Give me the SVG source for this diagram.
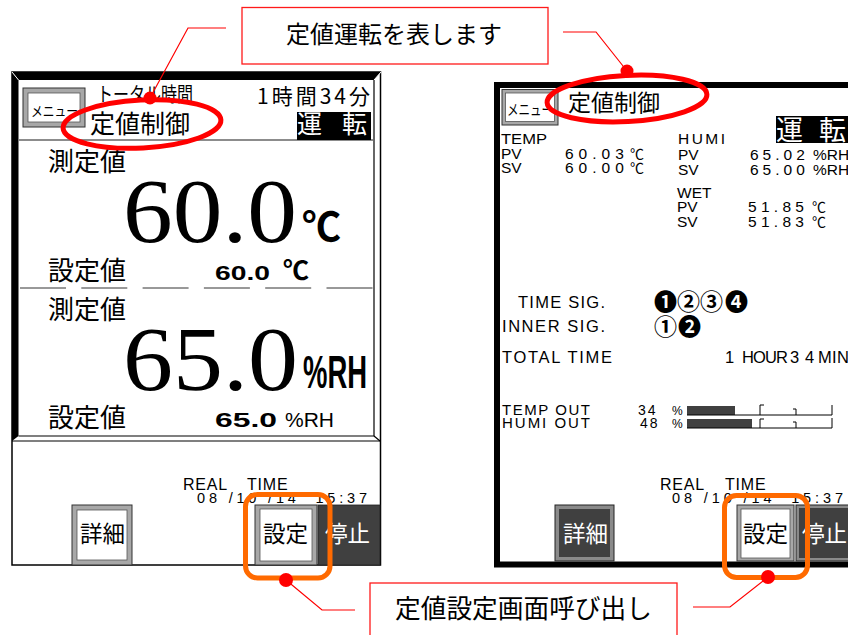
<svg xmlns="http://www.w3.org/2000/svg" width="848" height="635" viewBox="0 0 848 635">
<style>
.jp{font-family:'Noto Sans CJK JP','Noto Sans CJK SC',sans-serif;fill:#000}
.la{font-family:'Liberation Sans',Arial,sans-serif;fill:#000}
.se{font-family:'Liberation Serif','Times New Roman',serif;fill:#000}
.w{fill:#fff}
.lead{fill:none;stroke:#ff0000;stroke-width:1.2}
.dot{fill:#ff0000}
.callout{fill:#fff;stroke:#ff1a1a;stroke-width:1.3}
.ring{fill:none;stroke:#ff0000;stroke-width:5}
.orange{fill:none;stroke:#ff6a00;stroke-width:5}
.frame{fill:#a8a8a8;stroke:#333;stroke-width:1}
.face{fill:#fff;stroke:#555;stroke-width:0.8}
.dface{fill:#404040;stroke:#222;stroke-width:0.8}
.ln{stroke:#000;stroke-width:1.2;fill:none}
</style>

<g id="screen-left">
  <rect x="12" y="72" width="368.5" height="493" fill="#fff" stroke="#000" stroke-width="1.5"/>
  <polygon points="12,72 381,72 374,80 18.5,80" fill="#000"/>
  <polygon points="12,72 18.5,80 18.5,436 12,441" fill="#000"/>
  <line x1="12" y1="72" x2="18.5" y2="80" stroke="#fff" stroke-width="1"/>
  <line x1="374" y1="80" x2="381" y2="72" stroke="#fff" stroke-width="1"/>
  <line class="ln" x1="374" y1="80" x2="374" y2="436"/>
  <line class="ln" x1="18.5" y1="436" x2="374" y2="436"/>
  <line class="ln" x1="374" y1="436" x2="380" y2="441"/>
  <line class="ln" x1="12" y1="441" x2="380" y2="441"/>
  <line x1="19" y1="140" x2="373" y2="140" stroke="#666" stroke-width="1.5"/>

  <g id="btn-menu-left">
    <rect class="frame" x="23" y="88" width="62" height="39"/>
    <rect class="face" x="28" y="93" width="52" height="29"/>
    <text class="jp" x="31" y="116" font-size="14" textLength="47" lengthAdjust="spacingAndGlyphs">メニュー</text>
  </g>
  <text class="jp" x="97" y="102" font-size="20" textLength="96" lengthAdjust="spacingAndGlyphs">トータル時間</text>
  <text class="jp" x="90" y="133" font-size="25">定値制御</text>
  <text class="jp" x="257" y="104" font-size="21" textLength="113" lengthAdjust="spacing">1時間34分</text>
  <rect x="297" y="112" width="74" height="28" fill="#000"/>
  <text class="jp w" x="297" y="133" font-size="25">運<tspan x="342">転</tspan></text>

  <text class="jp" x="48" y="171" font-size="26">測定値</text>
  <text class="se" x="123" y="242" font-size="90" textLength="174" lengthAdjust="spacingAndGlyphs">60.0</text>
  <text class="jp" x="302" y="241" font-size="40" font-weight="700" textLength="39" lengthAdjust="spacingAndGlyphs">℃</text>
  <text class="jp" x="48" y="280" font-size="26">設定値</text>
  <text class="la" x="215" y="280" font-size="21" font-weight="700"><tspan textLength="55" lengthAdjust="spacingAndGlyphs">60.0</tspan><tspan x="283" font-family="'Noto Sans CJK JP',sans-serif" font-size="26">℃</tspan></text>
  <line x1="20" y1="288" x2="373" y2="288" stroke="#333" stroke-width="1" stroke-dasharray="46 15.3"/>

  <text class="jp" x="48" y="318.5" font-size="26">測定値</text>
  <text class="se" x="123" y="390" font-size="92" textLength="175" lengthAdjust="spacingAndGlyphs">65.0</text>
  <text class="la" x="303" y="388" font-size="46" font-weight="700" textLength="64" lengthAdjust="spacingAndGlyphs">%RH</text>
  <text class="jp" x="48" y="426.5" font-size="26">設定値</text>
  <text class="la" x="215" y="427" font-size="21"><tspan font-weight="700" textLength="62" lengthAdjust="spacingAndGlyphs">65.0</tspan><tspan x="285">%RH</tspan></text>

  <text class="la" x="183" y="490" font-size="16" letter-spacing="0.8">REAL<tspan x="247">TIME</tspan></text>
  <text class="la" x="197" y="503" font-size="14.5" textLength="170" lengthAdjust="spacing" xml:space="preserve">08 /10 /14  15:37</text>

  <g id="btn-detail-left">
    <rect class="frame" x="72" y="505" width="60" height="60"/>
    <rect class="face" x="77" y="510" width="50" height="50"/>
    <text class="jp" x="80" y="542" font-size="22.5">詳細</text>
  </g>
  <g id="btn-set-left">
    <rect class="frame" x="255" y="505" width="62" height="60"/>
    <rect class="face" x="260" y="509" width="52" height="52"/>
    <text class="jp" x="263" y="542" font-size="22.5">設定</text>
  </g>
  <g id="btn-stop-left">
    <rect class="dface" x="318" y="505" width="62" height="60"/>
    <text class="jp w" x="325" y="542" font-size="22.5">停止</text>
  </g>
</g>

<g id="screen-right">
  <rect x="497" y="85" width="400" height="479.5" fill="#fff" stroke="#000" stroke-width="6"/>
  <g id="btn-menu-right">
    <rect class="frame" x="502" y="89.5" width="56" height="35.5"/>
    <rect class="face" x="505.5" y="93" width="49" height="28.5"/>
    <text class="jp" x="507" y="115" font-size="15" textLength="46" lengthAdjust="spacingAndGlyphs">メニュー</text>
  </g>
  <text class="jp" x="568" y="110.5" font-size="23">定値制御</text>
  <rect x="776" y="116" width="80" height="27" fill="#000"/>
  <text class="jp w" x="776" y="140" font-size="27">運<tspan x="819">転</tspan></text>

  <g class="la" font-size="15.5">
    <text x="501" y="143.5" textLength="46" lengthAdjust="spacingAndGlyphs">TEMP</text>
    <text x="501" y="159">PV</text>
    <text x="501" y="173">SV</text>
    <text x="565" y="159" letter-spacing="5">60.03<tspan x="630" font-family="'Noto Sans CJK JP',sans-serif" font-size="14" letter-spacing="0">℃</tspan></text>
    <text x="565" y="173" letter-spacing="5">60.00<tspan x="630" font-family="'Noto Sans CJK JP',sans-serif" font-size="14" letter-spacing="0">℃</tspan></text>

    <text x="678" y="144" textLength="47" lengthAdjust="spacing">HUMI</text>
    <text x="678" y="160">PV</text>
    <text x="678" y="175">SV</text>
    <text x="750" y="160" letter-spacing="4">65.02<tspan x="813" letter-spacing="0">%RH</tspan></text>
    <text x="750" y="175" letter-spacing="4">65.00<tspan x="813" letter-spacing="0">%RH</tspan></text>

    <text x="677" y="198">WET</text>
    <text x="677" y="212">PV</text>
    <text x="677" y="227">SV</text>
    <text x="748" y="212" letter-spacing="4.3">51.85<tspan x="812" font-family="'Noto Sans CJK JP',sans-serif" font-size="14" letter-spacing="0">℃</tspan></text>
    <text x="748" y="227" letter-spacing="4.3">51.83<tspan x="812" font-family="'Noto Sans CJK JP',sans-serif" font-size="14" letter-spacing="0">℃</tspan></text>
  </g>

  <g class="la" font-size="16.5">
    <text x="518" y="308" textLength="87" lengthAdjust="spacing">TIME SIG.</text>
    <text x="502" y="332" textLength="103" lengthAdjust="spacing">INNER SIG.</text>
    <text x="502" y="363" textLength="110" lengthAdjust="spacing">TOTAL TIME</text>
    <text x="725 742 753 765 776 790 805 818 832 837" y="363">1HOUR34MIN</text>
  </g>
  <text class="jp" x="654 677 700 725" y="310" font-size="23" font-weight="700">❶②③❹</text>
  <text class="jp" x="654 678" y="335" font-size="23" font-weight="700">①❷</text>

  <g class="la" font-size="15">
    <text x="502" y="415" textLength="88" lengthAdjust="spacing">TEMP OUT</text>
    <text x="502" y="428" textLength="88" lengthAdjust="spacing">HUMI OUT</text>
    <text x="638" y="415" font-size="14" letter-spacing="2">34<tspan x="672" font-size="12" letter-spacing="0">%</tspan></text>
    <text x="640" y="428" font-size="14" letter-spacing="2">48<tspan x="672" font-size="12" letter-spacing="0">%</tspan></text>
  </g>
  <rect x="687" y="406" width="48" height="9" fill="#404040"/>
  <path d="M687,415 H832 M760,405 V415 M760,405 H764 M796,409 V415 M793,409 H796 M832,405 V415" stroke="#000" stroke-width="1" fill="none"/>
  <rect x="687" y="419" width="65" height="9" fill="#404040"/>
  <path d="M687,428 H832 M760,419 V428 M760,419 H764 M796,422 V428 M793,422 H796 M832,418 V428" stroke="#000" stroke-width="1" fill="none"/>

  <text class="la" x="660" y="490" font-size="16" letter-spacing="0.8">REAL<tspan x="725">TIME</tspan></text>
  <text class="la" x="672" y="503" font-size="14.5" textLength="171" lengthAdjust="spacing" xml:space="preserve">08 /10 /14  15:37</text>

  <g id="btn-detail-right">
    <rect x="555" y="505" width="59" height="56" fill="#8a8a8a" stroke="#222" stroke-width="1"/>
    <rect x="559" y="509" width="51" height="48" fill="#404040"/>
    <text class="jp w" x="563" y="542" font-size="22.5">詳細</text>
  </g>
  <g id="btn-set-right">
    <rect class="frame" x="737" y="505" width="57" height="56"/>
    <rect class="face" x="741" y="509" width="49" height="49"/>
    <text class="jp" x="743" y="542" font-size="22.5">設定</text>
  </g>
  <g id="btn-stop-right">
    <rect x="796" y="505" width="60" height="56" fill="#8a8a8a" stroke="#222" stroke-width="1"/>
    <rect x="799" y="508" width="55" height="50" fill="#404040"/>
    <text class="jp w" x="802" y="542" font-size="22.5">停止</text>
  </g>
</g>

<g id="highlights">
  <ellipse id="ring-left" class="ring" cx="142" cy="124" rx="79" ry="24" transform="rotate(-3 142 124)"/>
  <ellipse id="ring-right" class="ring" cx="627" cy="98.5" rx="80" ry="23" transform="rotate(-3 627 98.5)"/>
  <rect id="box-set-left" class="orange" x="245.5" y="494.5" width="84.5" height="83.5" rx="12"/>
  <rect id="box-set-right" class="orange" x="724.5" y="495.5" width="83" height="82" rx="12"/>
</g>

<g id="callout-top">
  <rect class="callout" x="242" y="7.5" width="306" height="56.5"/>
  <text class="jp" x="394" y="43" font-size="24" text-anchor="middle">定値運転を表します</text>
</g>
<g id="callout-bottom">
  <rect class="callout" x="370" y="583" width="307" height="70"/>
  <text class="jp" x="523.5" y="618" font-size="25.7" text-anchor="middle">定値設定画面呼び出し</text>
</g>

<g id="connectors">
  <polyline class="lead" points="150,98 188,28 226,28"/>
  <polyline class="lead" points="627,71 596,32 563,32"/>
  <polyline class="lead" points="286,580 322,610 355,610"/>
  <polyline class="lead" points="768,577 730,607 693,607"/>
  <circle class="dot" cx="150" cy="98" r="6.5"/>
  <circle class="dot" cx="627" cy="71" r="6.5"/>
  <circle class="dot" cx="286" cy="580" r="7"/>
  <circle class="dot" cx="768" cy="577" r="7"/>
</g>
</svg>
